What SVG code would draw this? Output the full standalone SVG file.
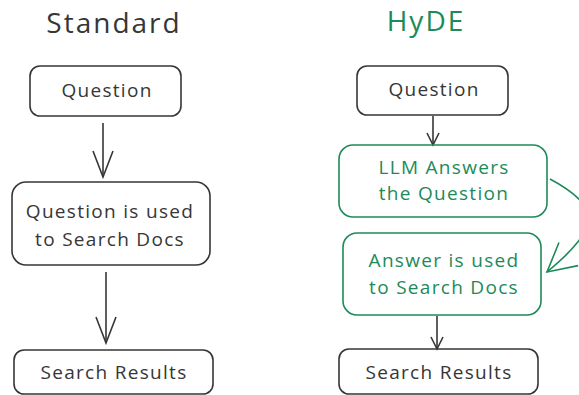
<svg xmlns="http://www.w3.org/2000/svg" width="579" height="395" viewBox="0 0 579 395">
<defs>
<style>
.box{fill:none;stroke:#363636;stroke-width:1.6}
.gbox{fill:none;stroke:#1d8a5a;stroke-width:1.6}
.t{font-family:"Open Sans","Liberation Sans",sans-serif;font-size:19px;letter-spacing:1.3px;fill:#363636;text-anchor:middle}
.gt{font-family:"Open Sans","Liberation Sans",sans-serif;font-size:19px;letter-spacing:1.3px;fill:#1d8a5a;text-anchor:middle}
.title{font-family:"Open Sans","Liberation Sans",sans-serif;font-size:28px;letter-spacing:2px;text-anchor:middle}
.c{fill:none;stroke:#363636;stroke-width:1.6}
.gc{fill:none;stroke:#1d8a5a;stroke-width:1.6}
</style>
<marker id="ah" viewBox="0 0 30 24" refX="28" refY="12" markerWidth="30" markerHeight="24" markerUnits="userSpaceOnUse" orient="auto">
<polyline points="2,2 28,12 2,22" fill="none" stroke="#363636" stroke-width="1.6"/>
</marker>
<marker id="ahs" viewBox="0 0 16 16" refX="14" refY="8" markerWidth="16" markerHeight="16" markerUnits="userSpaceOnUse" orient="auto">
<polyline points="2,2 14,8 2,14" fill="none" stroke="#363636" stroke-width="1.6"/>
</marker>
<marker id="ahg" viewBox="0 0 32 34" refX="30" refY="17" markerWidth="32" markerHeight="34" markerUnits="userSpaceOnUse" orient="auto">
<polyline points="2,2 30,17 2,32" fill="none" stroke="#1d8a5a" stroke-width="1.6"/>
</marker>
</defs>
<rect width="579" height="395" fill="#ffffff"/>
<text class="title" x="114" y="33" fill="#363636">Standard</text>
<text class="title" x="426" y="31" fill="#1d8a5a">HyDE</text>
<g id="edges">
<line class="c" x1="103" y1="123" x2="103" y2="177" marker-end="url(#ah)"/>
<line class="c" x1="106" y1="272" x2="106" y2="343" marker-end="url(#ah)"/>
<line class="c" x1="433" y1="116" x2="433" y2="145" marker-end="url(#ahs)"/>
<line class="c" x1="437" y1="316" x2="437" y2="349" marker-end="url(#ahs)"/>
<path class="gc" d="M550 179 C602 207 600 228 547 272" marker-end="url(#ahg)"/>
</g>
<g id="s-question">
<rect class="box" x="30" y="66" width="151" height="50" rx="10"/>
<text class="t" x="107" y="97">Question</text>
</g>
<g id="s-search-docs">
<rect class="box" x="12" y="182" width="198" height="83" rx="14"/>
<text class="t" x="110" y="218">Question is used</text>
<text class="t" x="110" y="246">to Search Docs</text>
</g>
<g id="s-results">
<rect class="box" x="14" y="350" width="199" height="44" rx="10"/>
<text class="t" x="114" y="379">Search Results</text>
</g>
<g id="h-question">
<rect class="box" x="357" y="66" width="151" height="49" rx="10"/>
<text class="t" x="434" y="96">Question</text>
</g>
<g id="h-llm">
<rect class="gbox" x="339" y="145" width="208" height="72" rx="14"/>
<text class="gt" x="444" y="174">LLM Answers</text>
<text class="gt" x="444" y="200">the Question</text>
</g>
<g id="h-answer">
<rect class="gbox" x="343" y="233" width="198" height="82" rx="14"/>
<text class="gt" x="444" y="267">Answer is used</text>
<text class="gt" x="444" y="294">to Search Docs</text>
</g>
<g id="h-results">
<rect class="box" x="339" y="349" width="199" height="45" rx="10"/>
<text class="t" x="439" y="379">Search Results</text>
</g>
</svg>
